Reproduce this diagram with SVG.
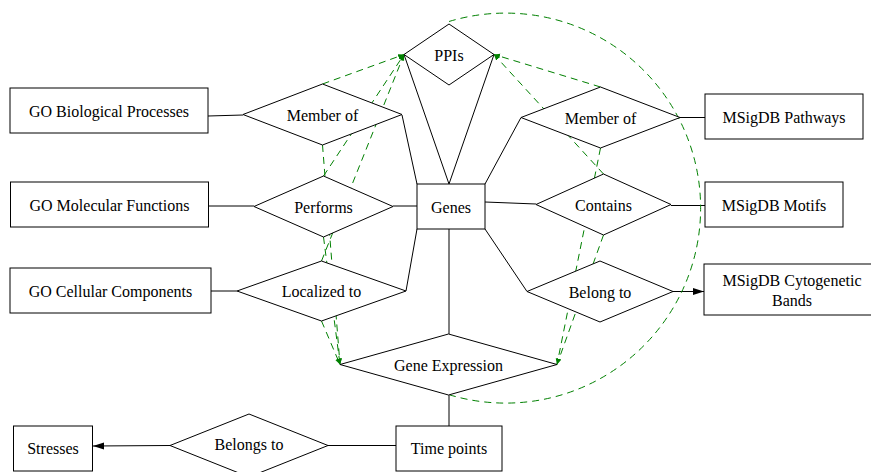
<svg xmlns="http://www.w3.org/2000/svg" width="871" height="472" viewBox="0 0 871 472">
<style>
.n{fill:#fff;stroke:#000;stroke-width:1}
.t{font-family:"Liberation Serif","Times New Roman",serif;font-size:16px;text-anchor:middle;fill:#000}
.e{stroke:#000;stroke-width:1;fill:none}
.d{stroke:#008000;stroke-width:1;stroke-dasharray:7,5;fill:none}
</style>
<defs>
<marker id="ah" markerUnits="userSpaceOnUse" markerWidth="12" markerHeight="8" refX="11" refY="4" orient="auto"><path d="M0,0.5 L11,4 L0,7.5 z" fill="#000"/></marker>
<marker id="gh" markerUnits="userSpaceOnUse" markerWidth="7" markerHeight="6" refX="6" refY="2.5" orient="auto"><path d="M0,0 L6,2.5 L0,5 z" fill="#008000"/></marker>
</defs>
<rect width="871" height="472" fill="#fff"/>
<g id="connectors">
<line class="e" x1="208" y1="116" x2="243" y2="115"/>
<line class="e" x1="402" y1="115" x2="417" y2="184"/>
<line class="e" x1="208.5" y1="206" x2="254" y2="206"/>
<line class="e" x1="393" y1="206" x2="417" y2="206"/>
<line class="e" x1="211" y1="291" x2="237" y2="291"/>
<line class="e" x1="406" y1="291" x2="417" y2="229"/>
<line class="e" x1="404" y1="54.5" x2="449" y2="184"/>
<line class="e" x1="494" y1="54.5" x2="449" y2="184"/>
<line class="e" x1="485" y1="184" x2="521" y2="117.5"/>
<line class="e" x1="485" y1="202" x2="536" y2="204"/>
<line class="e" x1="485" y1="229" x2="527" y2="291.5"/>
<line class="e" x1="449" y1="229" x2="449" y2="334"/>
<line class="e" x1="680" y1="117.5" x2="705" y2="117.5"/>
<line class="e" x1="671" y1="205.5" x2="705" y2="205.5"/>
<line class="e" x1="673" y1="291.5" x2="704" y2="291.5" marker-end="url(#ah)"/>
<line class="e" x1="449" y1="395" x2="449" y2="426"/>
<line class="e" x1="396" y1="445.5" x2="328" y2="445.5"/>
<line class="e" x1="170" y1="445.5" x2="93" y2="446" marker-end="url(#ah)"/>
<line class="d" x1="322.5" y1="84" x2="404" y2="54.5" marker-end="url(#gh)"/>
<line class="d" x1="323.5" y1="176" x2="404" y2="54.5" marker-end="url(#gh)"/>
<line class="d" x1="321.5" y1="261" x2="404" y2="54.5" marker-end="url(#gh)"/>
<line class="d" x1="322.5" y1="145" x2="340" y2="364.5" marker-end="url(#gh)"/>
<line class="d" x1="323.5" y1="237" x2="340" y2="364.5" marker-end="url(#gh)"/>
<line class="d" x1="321.5" y1="321" x2="340" y2="364.5" marker-end="url(#gh)"/>
<line class="d" x1="600.5" y1="87" x2="494" y2="54.5" marker-end="url(#gh)"/>
<line class="d" x1="603.5" y1="174" x2="494" y2="54.5" marker-end="url(#gh)"/>
<line class="d" x1="600.5" y1="148" x2="557" y2="364.5" marker-end="url(#gh)"/>
<line class="d" x1="603.5" y1="235" x2="557" y2="364.5" marker-end="url(#gh)"/>
<path class="d" d="M449,21.5 A195,195 0 1,1 450,395"/>
</g>
<g id="go-bp"><rect class="n" x="10" y="88" width="198" height="45"/><text class="t" x="109" y="116.5">GO Biological Processes</text></g>
<g id="go-mf"><rect class="n" x="10.5" y="182" width="198" height="45"/><text class="t" x="109.5" y="210.5">GO Molecular Functions</text></g>
<g id="go-cc"><rect class="n" x="10" y="268" width="201" height="45"/><text class="t" x="110.5" y="296.5">GO Cellular Components</text></g>
<g id="stresses"><rect class="n" x="13.5" y="426" width="79" height="45"/><text class="t" x="53" y="454">Stresses</text></g>
<g id="timepoints"><rect class="n" x="396" y="426" width="106" height="45"/><text class="t" x="449" y="454">Time points</text></g>
<g id="genes"><rect class="n" x="417" y="184" width="68" height="45"/><text class="t" x="451" y="212.5">Genes</text></g>
<g id="msig-path"><rect class="n" x="705" y="94" width="158" height="45"/><text class="t" x="784" y="122.5">MSigDB Pathways</text></g>
<g id="msig-motifs"><rect class="n" x="705" y="182" width="138" height="45"/><text class="t" x="774" y="210.5">MSigDB Motifs</text></g>
<g id="msig-cyto"><rect class="n" x="704" y="264" width="176" height="51"/><text class="t" x="792" y="286">MSigDB Cytogenetic</text><text class="t" x="792" y="305.5">Bands</text></g>
<g id="ppis"><polygon class="n" points="449,24 494,54.5 449,85 404,54.5"/><text class="t" x="449" y="61">PPIs</text></g>
<g id="memberof-l"><polygon class="n" points="322.5,84 402,114.5 322.5,145 243,114.5"/><text class="t" x="322.5" y="121">Member of</text></g>
<g id="performs"><polygon class="n" points="323.5,176 393,206.5 323.5,237 254,206.5"/><text class="t" x="323.5" y="212.5">Performs</text></g>
<g id="localized"><polygon class="n" points="321.5,261 406,291 321.5,321 237,291"/><text class="t" x="321.5" y="297">Localized to</text></g>
<g id="geneexpr"><polygon class="n" points="448.5,334 557,364.5 448.5,395 340,364.5"/><text class="t" x="448.5" y="370.5">Gene Expression</text></g>
<g id="memberof-r"><polygon class="n" points="600.5,87 680,117.5 600.5,148 521,117.5"/><text class="t" x="600.5" y="124">Member of</text></g>
<g id="contains"><polygon class="n" points="603.5,174 671,204.5 603.5,235 536,204.5"/><text class="t" x="603.5" y="211">Contains</text></g>
<g id="belongto"><polygon class="n" points="600,261 673,291.5 600,322 527,291.5"/><text class="t" x="600" y="297.5">Belong to</text></g>
<g id="belongsto"><polygon class="n" points="249,414 328,445.5 249,477 170,445.5"/><text class="t" x="249" y="450">Belongs to</text></g>
</svg>
